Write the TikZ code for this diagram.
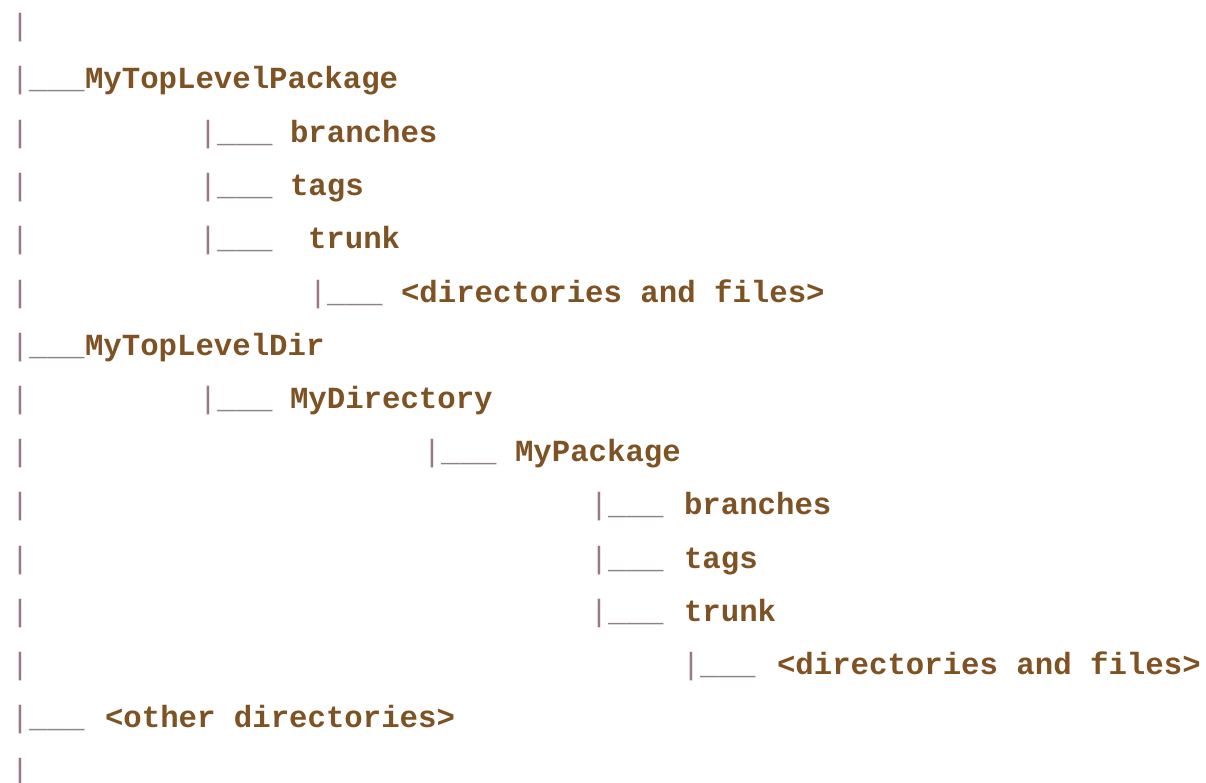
\documentclass[tikz,border=0pt]{standalone}
\usepackage{fontspec}
\setmonofont{Liberation Mono}
\definecolor{txtbrown}{HTML}{7F5224}
\definecolor{pipecol}{HTML}{9A7886}
\definecolor{barcol}{HTML}{8E8289}
\tikzset{
  monotext/.style={anchor=base west, inner sep=0pt, outer sep=0pt, font=\ttfamily\fontsize{30.7}{30.7}\selectfont},
  dirlabel/.style={monotext, text=txtbrown, font=\ttfamily\bfseries\fontsize{30.7}{30.7}\selectfont},
  branchmark/.style={monotext, xshift=-9.2pt},
}
\newcommand{\pp}{{\color{pipecol}|}}
\newcommand{\bb}{{\color{barcol}\_\_\_}}
\begin{document}
\begin{tikzpicture}[x=1pt,y=-1pt]
\useasboundingbox[fill=white] (0,0) rectangle (1206,783);
\node[branchmark] (p0) at (20,35.5) {\pp};
\node[branchmark] (p1) at (20,89) {\pp\bb};
\node[dirlabel] (t1) at (85,89) {MyTopLevelPackage};
\node[branchmark] (p2a) at (20,142.5) {\pp};
\node[branchmark] (p2) at (208,142.5) {\pp\bb};
\node[dirlabel] (t2) at (290,142.5) {branches};
\node[branchmark] (p3a) at (20,195.7) {\pp};
\node[branchmark] (p3) at (208,195.7) {\pp\bb};
\node[dirlabel] (t3) at (290,195.7) {tags};
\node[branchmark] (p4a) at (20,248.9) {\pp};
\node[branchmark] (p4) at (208,248.9) {\pp\bb};
\node[dirlabel] (t4) at (308,248.9) {trunk};
\node[branchmark] (p5a) at (20,302.1) {\pp};
\node[branchmark] (p5) at (318,302.1) {\pp\bb};
\node[dirlabel] (t5) at (401,302.1) {<directories and files>};
\node[branchmark] (p6) at (20,355.3) {\pp\bb};
\node[dirlabel] (t6) at (85,355.3) {MyTopLevelDir};
\node[branchmark] (p7a) at (20,408.5) {\pp};
\node[branchmark] (p7) at (208,408.5) {\pp\bb};
\node[dirlabel] (t7) at (290,408.5) {MyDirectory};
\node[branchmark] (p8a) at (20,461.7) {\pp};
\node[branchmark] (p8) at (432,461.7) {\pp\bb};
\node[dirlabel] (t8) at (515,461.7) {MyPackage};
\node[branchmark] (p9a) at (20,514.9) {\pp};
\node[branchmark] (p9) at (599,514.9) {\pp\bb};
\node[dirlabel] (t9) at (684,514.9) {branches};
\node[branchmark] (p10a) at (20,568.1) {\pp};
\node[branchmark] (p10) at (599,568.1) {\pp\bb};
\node[dirlabel] (t10) at (684,568.1) {tags};
\node[branchmark] (p11a) at (20,621.3) {\pp};
\node[branchmark] (p11) at (599,621.3) {\pp\bb};
\node[dirlabel] (t11) at (684,621.3) {trunk};
\node[branchmark] (p12a) at (20,674.5) {\pp};
\node[branchmark] (p12) at (691,674.5) {\pp\bb};
\node[dirlabel] (t12) at (777,674.5) {<directories and files>};
\node[branchmark] (p13) at (20,727.7) {\pp\bb};
\node[dirlabel] (t13) at (105,727.7) {<other directories>};
\node[branchmark] (p14) at (20,780.9) {\pp};
\end{tikzpicture}
\end{document}
